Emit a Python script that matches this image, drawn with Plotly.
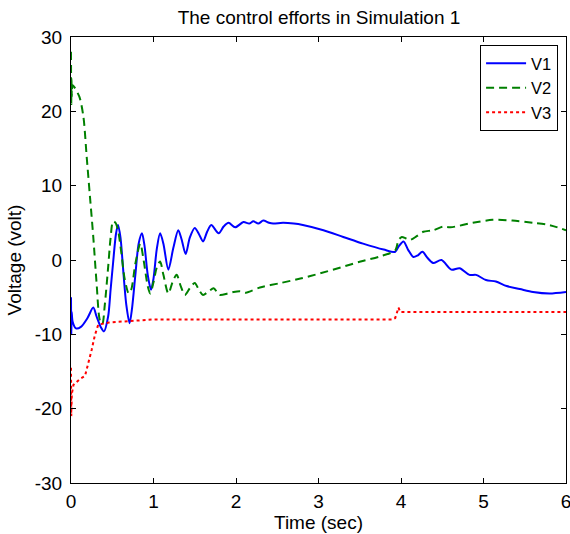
import plotly.graph_objects as go

# ---- data ----
t_v1 = [0, 0.004, 0.008, 0.02, 0.06, 0.12, 0.2, 0.27, 0.31, 0.36, 0.40, 0.45, 0.48, 0.51, 0.545,
        0.57, 0.60, 0.63, 0.67, 0.71, 0.74, 0.78, 0.82, 0.86, 0.89, 0.93, 0.97, 1.00, 1.04, 1.08,
        1.12, 1.18, 1.24, 1.30, 1.34, 1.39, 1.44, 1.50, 1.55, 1.60, 1.65, 1.70, 1.79, 1.85, 1.91,
        1.99, 2.09, 2.16, 2.21, 2.27, 2.33, 2.40, 2.45, 2.57, 2.70, 2.81, 3.06, 3.30, 3.54, 3.79,
        3.93, 3.97, 4.03, 4.09, 4.15, 4.20, 4.26, 4.32, 4.39, 4.49, 4.61, 4.71, 4.83, 4.91, 5.03,
        5.15, 5.28, 5.44, 5.60, 5.80, 6.0]
v1 = [-5, -10, -7, -8.3, -9.2, -9.0, -7.8, -6.4, -7.6, -9.0, -9.6, -7.6, -4, -0.4, 3.5,
      4.7, 3, -1, -6, -8.5, -6.5, -2, 2.2, 3.6, 2, -2, -4, -2.5, 1.5, 3.6,
      2.2, -1.3, 1.6, 4, 2.8, 0.8, 3, 4.3, 3.5, 2.5, 3.8, 4.7, 3.6, 4.5, 5,
      4.4, 5.1, 4.9, 5.2, 4.9, 5.3, 5.0, 4.9, 5.0, 4.9, 4.7, 4.0, 3.1, 2.2, 1.4,
      1.1, 1.8, 2.5, 1.3, 0.4, 0.6, 1.1, 0.3, -0.4, 0.0, -1.3, -1.1, -2.0, -2.0, -2.7,
      -2.9, -3.5, -3.9, -4.3, -4.5, -4.3]

t_v2 = [0, 0.003, 0.006, 0.01, 0.02, 0.1, 0.15, 0.19, 0.23, 0.27, 0.31, 0.35, 0.38, 0.41, 0.45,
        0.48, 0.51, 0.54, 0.57, 0.61, 0.65, 0.70, 0.73, 0.78, 0.84, 0.88, 0.93, 0.96, 1.0, 1.04,
        1.08, 1.12, 1.18, 1.23, 1.28, 1.33, 1.38, 1.44, 1.50, 1.55, 1.60, 1.67, 1.73, 1.80, 1.90,
        1.97, 2.05, 2.12, 2.29, 2.54, 2.78, 3.02, 3.27, 3.51, 3.75, 3.93, 3.97, 4.01, 4.06, 4.11,
        4.19, 4.27, 4.39, 4.51, 4.60, 4.87, 5.11, 5.35, 5.60, 5.80, 6.0]
v2 = [28, 21, 24.5, 22, 23.5, 22, 19.3, 13.9, 8.5, 3.1, -3.1, -8.1, -8.6, -6, -1,
      3, 5.2, 5, 4, 1, -2.5, -4.5, -4, -0.5, 2.2, 0, -3.5, -4.5, -3, -1,
      -0.2, -2, -4.5, -3, -2, -3.5, -4.7, -3.8, -3.1, -4, -4.7, -4.2, -3.8, -4.7, -4.5,
      -4.3, -4.2, -4.4, -3.7, -3.1, -2.5, -1.8, -1.0, -0.2, 0.5, 1.3, 2.7, 3.1, 2.9, 2.7,
      3.2, 3.8, 4.0, 4.5, 4.4, 5.0, 5.4, 5.3, 5.0, 4.7, 4.0]

t_v3 = [0, 0.003, 0.006, 0.01, 0.03, 0.11, 0.17, 0.21, 0.25, 0.29, 0.33, 0.46, 0.70, 1.0, 2.0,
        3.9, 3.93, 3.95, 3.97, 3.99, 4.02, 6.0]
v3 = [-14.5, -21, -17, -18, -16.8, -16, -15.6, -13.9, -12.1, -10.1, -8.7, -8.4, -8.2, -8.0, -8.0,
      -8.0, -7.8, -7.2, -6.4, -7.0, -7.0, -7.0]

x_ticks = [0, 1, 2, 3, 4, 5, 6]
x_tick_labels = ["0", "1", "2", "3", "4", "5", "6"]
y_ticks = [-30, -20, -10, 0, 10, 20, 30]
y_tick_labels = ["-30", "-20", "-10", "0", "10", "20", "30"]

FONT = "Liberation Sans, Arial, sans-serif"
FS = 19

fig = go.Figure()
fig.add_trace(go.Scatter(x=t_v1, y=v1, mode="lines", name="V1",
                         line=dict(color="#0000ff", width=2, shape="spline", smoothing=0.8)))
fig.add_trace(go.Scatter(x=t_v2, y=v2, mode="lines", name="V2",
                         line=dict(color="#008000", width=2, dash="8px,5px",
                                   shape="spline", smoothing=0.8)))
fig.add_trace(go.Scatter(x=t_v3, y=v3, mode="lines", name="V3",
                         line=dict(color="#ff0000", width=2, dash="3px,3px")))

axis_common = dict(showgrid=False, zeroline=False, showline=True, linecolor="black",
                   linewidth=1, mirror="ticks", ticks="inside", ticklen=5,
                   tickcolor="black", ticklabeloverflow="allow",
                   tickfont=dict(family=FONT, size=FS, color="black"))

fig.update_layout(
    width=570, height=534,
    margin=dict(l=71, r=4, t=37, b=51, autoexpand=False),
    paper_bgcolor="white", plot_bgcolor="white",
    font=dict(family=FONT, size=FS, color="black"),
    title=dict(text="The control efforts in Simulation 1", x=319 / 570,
               xanchor="center", y=1 - 17 / 534, yanchor="middle",
               yref="container", font=dict(family=FONT, size=FS, color="black")),
    xaxis=dict(range=[0, 6], tickvals=x_ticks, ticktext=x_tick_labels, ticklabelstandoff=1,
               title=dict(text="Time (sec)", standoff=0, font=dict(family=FONT, size=FS)),
               **axis_common),
    yaxis=dict(range=[-30, 30], tickvals=y_ticks, ticktext=y_tick_labels, ticklabelstandoff=4,
               title=dict(text="Voltage (volt)", standoff=8, font=dict(family=FONT, size=FS)),
               **axis_common),
    legend=dict(x=0.984, y=0.982, xanchor="right", yanchor="top",
                bordercolor="black", borderwidth=1, bgcolor="white", itemwidth=40,
                font=dict(family=FONT, size=16.5)),
    showlegend=True,
)

fig.write_html("out.html", config={"displayModeBar": False},
               post_script="document.body.style.margin='0';")
